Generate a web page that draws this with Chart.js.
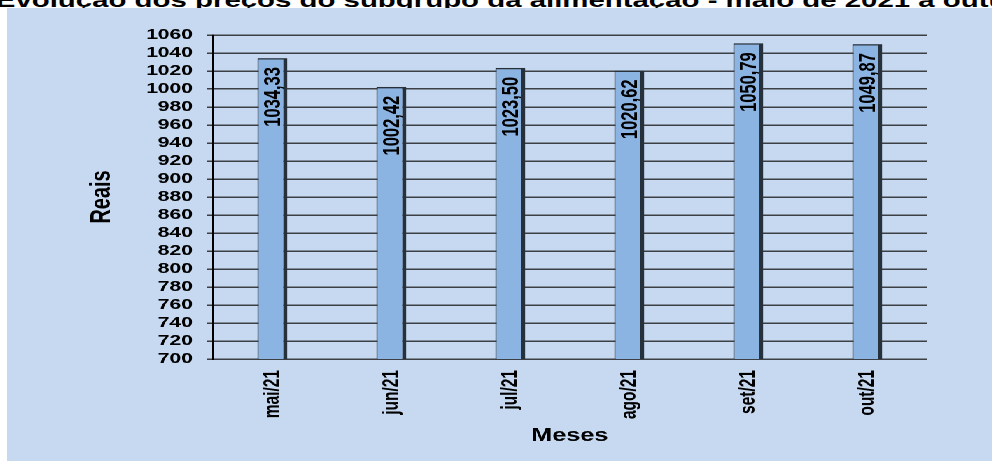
<!DOCTYPE html>
<html>
<head>
<meta charset="utf-8">
<script src="https://cdn.jsdelivr.net/npm/chart.js@4/dist/chart.umd.min.js"></script>
<style>
  html, body { margin: 0; padding: 0; background: #fff; overflow: hidden; }
  body { width: 992px; height: 461px; position: relative; font-family: "Liberation Sans", Arial, sans-serif; }
  #title { position: absolute; left: 0; top: 0; }
  #panel {
    position: absolute; left: 7px; top: 8px;
    width: 704px; height: 453px;
    background: #c6d9f0;
    transform: scaleX(1.4); transform-origin: 0 0;
  }
</style>
</head>
<body>
<svg id="title" width="992" height="20">
  <text x="-3" y="7" transform="scale(1.4,1)" font-family="Liberation Sans, Arial, sans-serif" font-weight="bold" font-size="21">Evolução dos preços do subgrupo da alimentação - maio de 2021 a outubro de 2021</text>
</svg>
<div id="panel"><canvas id="chart"></canvas></div>
<script>
const months = ['mai/21', 'jun/21', 'jul/21', 'ago/21', 'set/21', 'out/21'];
const prices = [1034.33, 1002.42, 1023.50, 1020.62, 1050.79, 1049.87];
const yMin = 700;
const yMax = 1060;
const yStep = 20;

const FONT = '"Liberation Sans", Arial, sans-serif';

// values written inside each bar, reading upwards
const barLabels = {
    id: 'barLabels',
    afterDatasetsDraw(chart) {
        const ctx = chart.ctx;
        const meta = chart.getDatasetMeta(0);
        ctx.save();
        ctx.fillStyle = '#000';
        ctx.font = 'bold 16.5px ' + FONT;
        ctx.textAlign = 'right';
        ctx.textBaseline = 'middle';
        meta.data.forEach((bar, i) => {
            ctx.save();
            ctx.translate(bar.x + 0.8, bar.y + 9);
            ctx.rotate(-Math.PI / 2);
            ctx.fillText(prices[i].toFixed(2).replace('.', ','), 0, 0);
            ctx.restore();
        });
        ctx.restore();
    }
};

new Chart(document.getElementById('chart'), {
    type: 'bar',
    data: {
        labels: months,
        datasets: [{
            data: prices,
            backgroundColor: '#8cb4e2',
            borderColor: '#27313c',
            borderWidth: { top: 1.5, left: 1, right: 3, bottom: 0 },
            borderSkipped: false,
            categoryPercentage: 1,
            barPercentage: 0.252
        }]
    },
    options: {
        responsive: true,
        maintainAspectRatio: false,
        animation: false,
        devicePixelRatio: 2,
        layout: { padding: { top: 27, right: 47, bottom: 0, left: 0 } },
        plugins: {
            legend: { display: false },
            tooltip: { enabled: false }
        },
        scales: {
            x: {
                grid: { display: false, drawTicks: false },
                border: { display: true, color: '#3c3f44', width: 1.5 },
                ticks: {
                    autoSkip: false,
                    maxRotation: 90,
                    minRotation: 90,
                    padding: 11,
                    color: '#000',
                    font: { family: FONT, size: 15.5, weight: 'bold' }
                },
                title: {
                    display: true,
                    text: 'Meses',
                    color: '#000',
                    font: { family: FONT, size: 18, weight: 'bold' },
                    padding: { top: 0, bottom: 14 }
                },
                afterFit(scale) { scale.height = 102; }
            },
            y: {
                min: yMin,
                max: yMax,
                grid: { color: '#3c3f44', lineWidth: 1.5, tickLength: 4.3 },
                border: { display: true, color: '#000', width: 1.5 },
                ticks: {
                    stepSize: yStep,
                    autoSkip: false,
                    padding: 10,
                    color: '#000',
                    font: { family: FONT, size: 15, weight: 'bold' },
                    callback: v => String(v)
                },
                title: {
                    display: true,
                    text: 'Reais',
                    color: '#000',
                    font: { family: FONT, size: 20, weight: 'bold' },
                    padding: { top: 56, bottom: 0 }
                },
                afterFit(scale) { scale.width = 147; }
            }
        }
    },
    plugins: [barLabels]
});
</script>
</body>
</html>
